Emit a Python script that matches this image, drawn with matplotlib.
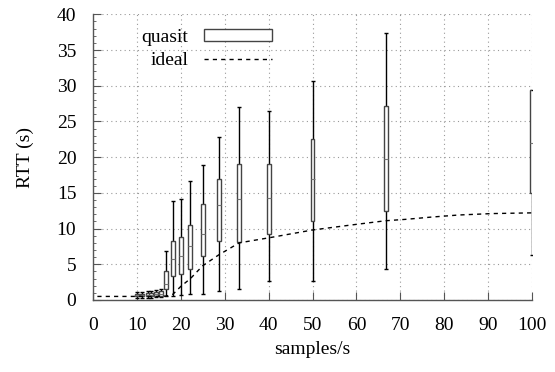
import matplotlib
matplotlib.use("Agg")
import matplotlib.pyplot as plt
from matplotlib.patches import Rectangle
from matplotlib.lines import Line2D

plt.rcParams['font.family'] = ['Liberation Serif', 'DejaVu Serif']

# quasit candlestick data (samples/s -> RTT seconds)
rates = [10.0, 11.1, 12.5, 13.3, 14.3, 15.4, 16.7, 18.2, 20.0, 22.2, 25.0, 28.6, 33.3, 40.0, 50.0, 66.7, 100.0]
whisk_low = [0.3, 0.3, 0.35, 0.35, 0.4, 0.4, 0.6, 0.6, 0.7, 0.8, 0.9, 1.2, 1.5, 2.6, 2.7, 4.4, 6.3]
box_low = [0.5, 0.5, 0.55, 0.55, 0.6, 0.6, 1.6, 3.3, 3.6, 4.3, 6.1, 8.2, 8.1, 9.3, 11.1, 12.5, 15.0]
median = [0.7, 0.7, 0.75, 0.75, 0.8, 0.9, 2.3, 5.8, 6.1, 7.5, 9.2, 13.3, 14.2, 14.3, 17.0, 19.8, 22.0]
box_high = [0.9, 0.9, 1.0, 1.0, 1.1, 1.2, 4.0, 8.3, 8.8, 10.5, 13.4, 16.9, 19.0, 19.1, 22.5, 27.1, 29.4]
whisk_high = [1.1, 1.1, 1.3, 1.3, 1.4, 1.6, 6.9, 13.9, 14.2, 16.6, 18.9, 22.8, 27.0, 26.5, 30.7, 37.4, 29.4]

# ideal curve
ideal_x = [1.0, 5.0, 10.0, 14.3, 16.7, 18.2, 20.0, 22.2, 25.0, 28.6, 33.3, 40.0, 50.0,
           58.8, 66.7, 71.4, 76.9, 83.3, 90.9, 100.0]
ideal_y = [0.5, 0.5, 0.5, 0.5, 0.55, 0.8, 1.9, 3.0, 4.8, 6.3, 8.0, 8.7, 9.8,
           10.5, 11.1, 11.3, 11.6, 11.9, 12.1, 12.2]

x_ticks = list(range(0, 101, 10))
y_ticks = list(range(0, 41, 5))

fig = plt.figure(figsize=(5.55, 3.72), dpi=100)
ax = fig.add_axes([93/555, 1-300/372, (532-93)/555, (300-14.3)/372])

axis_col = '#555555'
ax.grid(True, linestyle=(0, (1, 3)), color='#999999', linewidth=0.8)
ax.set_axisbelow(True)

box_w = 0.9
heights = [h - l for h, l in zip(box_high, box_low)]
ax.vlines(rates, whisk_low, box_low, color='black', lw=1.0, zorder=3)
ax.vlines(rates, box_high, whisk_high, color='black', lw=1.0, zorder=3)
ax.plot(rates, whisk_low, ls='none', marker='_', ms=3.5, mew=1.0, color='black', zorder=3)
ax.plot(rates, whisk_high, ls='none', marker='_', ms=3.5, mew=1.0, color='black', zorder=3)
ax.bar(rates, heights, bottom=box_low, width=box_w, facecolor='white',
       edgecolor='#444444', linewidth=1.0, zorder=4)
ax.plot(rates, median, ls='none', marker='_', ms=3, mew=0.8, color='#777777', zorder=5)

ax.plot(ideal_x, ideal_y, color='black', lw=1.0, ls=(0, (3, 3)), zorder=6)

ax.set_xlim(0, 100)
ax.set_ylim(0, 40)
ax.set_xticks(x_ticks)
ax.set_yticks(y_ticks)
ax.set_yticks([i * 1.0 for i in range(41)], minor=True)
ax.tick_params(axis='both', which='major', direction='in', length=6, width=0.8,
               color=axis_col, labelsize=14)
ax.tick_params(axis='x', which='major', pad=12)
ax.tick_params(axis='y', which='major', pad=12)
ax.tick_params(axis='y', which='minor', direction='in', length=2, width=0.6, color=axis_col)
ax.tick_params(axis='x', which='minor', bottom=False)
for s in ['top', 'right']:
    ax.spines[s].set_visible(False)
for s in ['left', 'bottom']:
    ax.spines[s].set_color(axis_col)
    ax.spines[s].set_linewidth(1.0)

ax.set_xlabel('samples/s', fontsize=14, labelpad=5)
ax.set_ylabel('RTT (s)', fontsize=14, labelpad=16)

handles = [Rectangle((0, 0), 1, 1, facecolor='white', edgecolor='#444444', lw=1.0),
           Line2D([], [], color='black', lw=1.0, ls=(0, (3, 3)))]
ax.legend(handles, ['quasit', 'ideal'], loc='upper left', bbox_to_anchor=(0.07, 1.01),
          frameon=False, markerfirst=False, fontsize=14, handlelength=3.5,
          handleheight=0.5, handletextpad=0.8, labelspacing=0.3)

fig.savefig('out.png', dpi=100)
